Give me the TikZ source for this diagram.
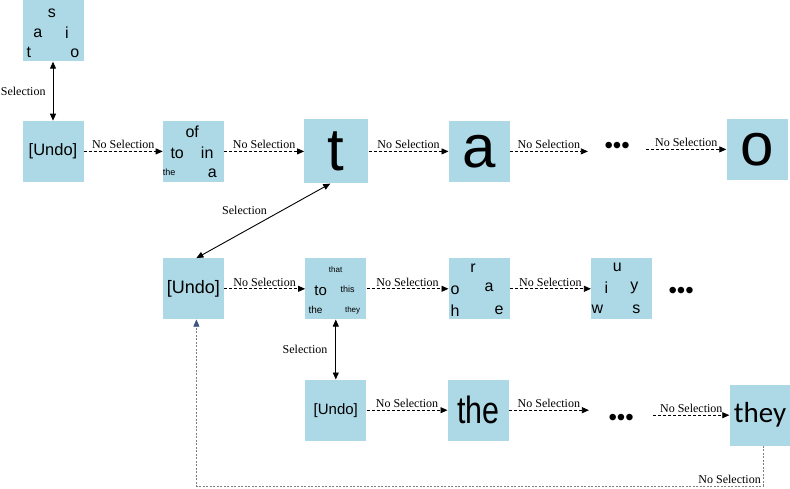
\documentclass[tikz,border=0pt]{standalone}
\usepackage{fontspec}
\setmainfont{Liberation Serif}
\newfontfamily\boxfont{Liberation Sans}
\newfontfamily\theyfont{Carlito}
\usepackage{graphicx}
\usepackage{tikz}
\usetikzlibrary{arrows.meta, positioning}
\definecolor{wordblue}{RGB}{173,216,230}
\definecolor{backblue}{RGB}{60,85,130}

\begin{document}
\begin{tikzpicture}[x=1pt, y=-1pt,
        word/.style = {
            rectangle,
            fill=wordblue,
            inner sep=0pt,
            minimum width=61pt,
            minimum height=61pt,
            font=\boxfont
        },
        letter/.style = {
            inner sep=0pt,
            font=\boxfont\fontsize{#1}{#1}\selectfont
        },
        letter/.default = 16,
        dots/.style = {
            inner sep=0pt,
            font=\boxfont\fontsize{24}{24}\selectfont
        },
        lbl/.style = {
            inner sep=2pt,
            font=\fontsize{12}{14}\selectfont
        },
        nosel/.style = {
            -{Triangle[length=7pt, width=6pt]},
            line width=0.8pt,
            dash pattern=on 3pt off 2pt
        },
        sel/.style = {
            {Triangle[length=7pt, width=6pt]}-{Triangle[length=7pt, width=6pt]},
            line width=0.9pt
        },
        back/.style = {
            -{Triangle[length=7pt, width=6pt, color=backblue]},
            draw=gray,
            line width=0.5pt,
            dash pattern=on 2pt off 1.5pt
        }
        ]

        \useasboundingbox (0,0) rectangle (790,489);

        % first row
        \node (top) [word] at (53,31) {};
        \node (top_s) [letter] at ([shift={(29.5,12.5)}]top.north west) {s};
        \node (top_a) [letter] at ([shift={(15.5,32.5)}]top.north west) {a};
        \node (top_i) [letter] at ([shift={(44.5,32.5)}]top.north west) {i};
        \node (top_t) [letter] at ([shift={(6.5,52.5)}]top.north west) {t};
        \node (top_o) [letter] at ([shift={(52.5,52.5)}]top.north west) {o};

        \node (undo1) [word, below=59pt of top, font=\boxfont\fontsize{16.5}{17}\selectfont] {[Undo]};

        \node (w1) [word, right=79pt of undo1] {};
        \node (w1_of) [letter] at ([shift={(29.5,11.5)}]w1.north west) {of};
        \node (w1_to) [letter] at ([shift={(14.5,32.5)}]w1.north west) {to};
        \node (w1_in) [letter] at ([shift={(44.5,32.5)}]w1.north west) {in};
        \node (w1_the) [letter=9] at ([shift={(6.5,51.5)}]w1.north west) {the};
        \node (w1_a) [letter] at ([shift={(49.5,52.5)}]w1.north west) {a};

        \node (t) [word, minimum width=64pt, minimum height=64pt, right=80pt of w1, font=\boxfont\fontsize{60}{60}\selectfont] {t};
        \node (a) [word, right=80pt of t, font=\boxfont\fontsize{60}{60}\selectfont] {a};
        \node (dots1) [dots, minimum width=58pt, right=78pt of a, yshift=4pt] {\textbullet\textbullet\textbullet};
        \node (o) [word, right=80pt of dots1, yshift=-2pt, font=\boxfont\fontsize{60}{60}\selectfont] {o};

        % second row
        \node (undo2) [word, below=76pt of w1, font=\boxfont\fontsize{18}{19}\selectfont] {[Undo]};

        \node (w2) [word, right=81pt of undo2] {};
        \node (w2_that) [letter=8] at ([shift={(30.5,11.5)}]w2.north west) {that};
        \node (w2_to) [letter=15] at ([shift={(15.5,32.5)}]w2.north west) {to};
        \node (w2_this) [letter=9] at ([shift={(42.5,31.5)}]w2.north west) {this};
        \node (w2_the) [letter=10] at ([shift={(10.5,51.5)}]w2.north west) {the};
        \node (w2_they) [letter=8] at ([shift={(47.5,52.5)}]w2.north west) {they};

        \node (w3) [word, right=82pt of w2] {};
        \node (w3_r) [letter] at ([shift={(24.5,10.5)}]w3.north west) {r};
        \node (w3_o) [letter] at ([shift={(6.5,32.5)}]w3.north west) {o};
        \node (w3_a) [letter] at ([shift={(40.5,29.5)}]w3.north west) {a};
        \node (w3_h) [letter] at ([shift={(6.5,52.5)}]w3.north west) {h};
        \node (w3_e) [letter] at ([shift={(50.5,52.5)}]w3.north west) {e};

        \node (w4) [word, right=81pt of w3] {};
        \node (w4_u) [letter] at ([shift={(26.5,9.5)}]w4.north west) {u};
        \node (w4_i) [letter] at ([shift={(15.5,29.5)}]w4.north west) {i};
        \node (w4_y) [letter] at ([shift={(43.5,29.5)}]w4.north west) {y};
        \node (w4_w) [letter] at ([shift={(6.5,51.5)}]w4.north west) {w};
        \node (w4_s) [letter] at ([shift={(45.5,51.5)}]w4.north west) {s};

        \node (dots2) [dots, right=16pt of w4, yshift=-4pt] {\textbullet\textbullet\textbullet};

        % third row
        \node (undo3) [word, below=60pt of w2, font=\boxfont\fontsize{15}{16}\selectfont] {[Undo]};
        \node (the) [word, right=81pt of undo3, font=\boxfont\fontsize{38}{38}\selectfont] {\scalebox{0.8}[1]{the}};
        \node (dots3) [dots, minimum width=64pt, right=80pt of the, yshift=-10pt] {\textbullet\textbullet\textbullet};
        \node (they) [word, right=76pt of dots3, yshift=5pt, font=\theyfont\fontsize{29}{29}\selectfont] {they};

        % connectors
        \draw[sel] (top) -- node[lbl, left=5pt] (sel_lbl1) {Selection} (undo1);
        \draw[nosel] (undo1) -- node[lbl, above] (lbl_1) {No Selection} (w1);
        \draw[nosel] (w1) -- node[lbl, above] (lbl_2) {No Selection} (t);
        \draw[nosel] (t) -- node[lbl, above] (lbl_3) {No Selection} (a);
        \draw[nosel] (a.east) -- node[lbl, above] (lbl_4) {No Selection} (a.east -| dots1.west);
        \draw[nosel] (o.west -| dots1.east) -- node[lbl, above] (lbl_5) {No Selection} (o.west);

        \draw[sel] ([xshift=-6pt]t.south) -- node[lbl, above left=4pt and -6pt] (sel_lbl2) {Selection} ([xshift=3pt]undo2.north);
        \draw[nosel] (undo2) -- node[lbl, above] (lbl_6) {No Selection} (w2);
        \draw[nosel] (w2) -- node[lbl, above] (lbl_7) {No Selection} (w3);
        \draw[nosel] (w3) -- node[lbl, above] (lbl_8) {No Selection} (w4);

        \draw[sel] (w2) -- node[lbl, left=6pt] (sel_lbl3) {Selection} (undo3);
        \draw[nosel] (undo3) -- node[lbl, above] (lbl_9) {No Selection} (the);
        \draw[nosel] (the.east) -- node[lbl, above] (lbl_10) {No Selection} (the.east -| dots3.west);
        \draw[nosel] (they.west -| dots3.east) -- node[lbl, above] (lbl_11) {No Selection} (they.west);

        \draw[back] ([xshift=3pt]they.south) -- ++(0,40) node[lbl, above left] (lbl_back) {No Selection} -| ([xshift=3pt]undo2.south);

    \end{tikzpicture}
\end{document}
